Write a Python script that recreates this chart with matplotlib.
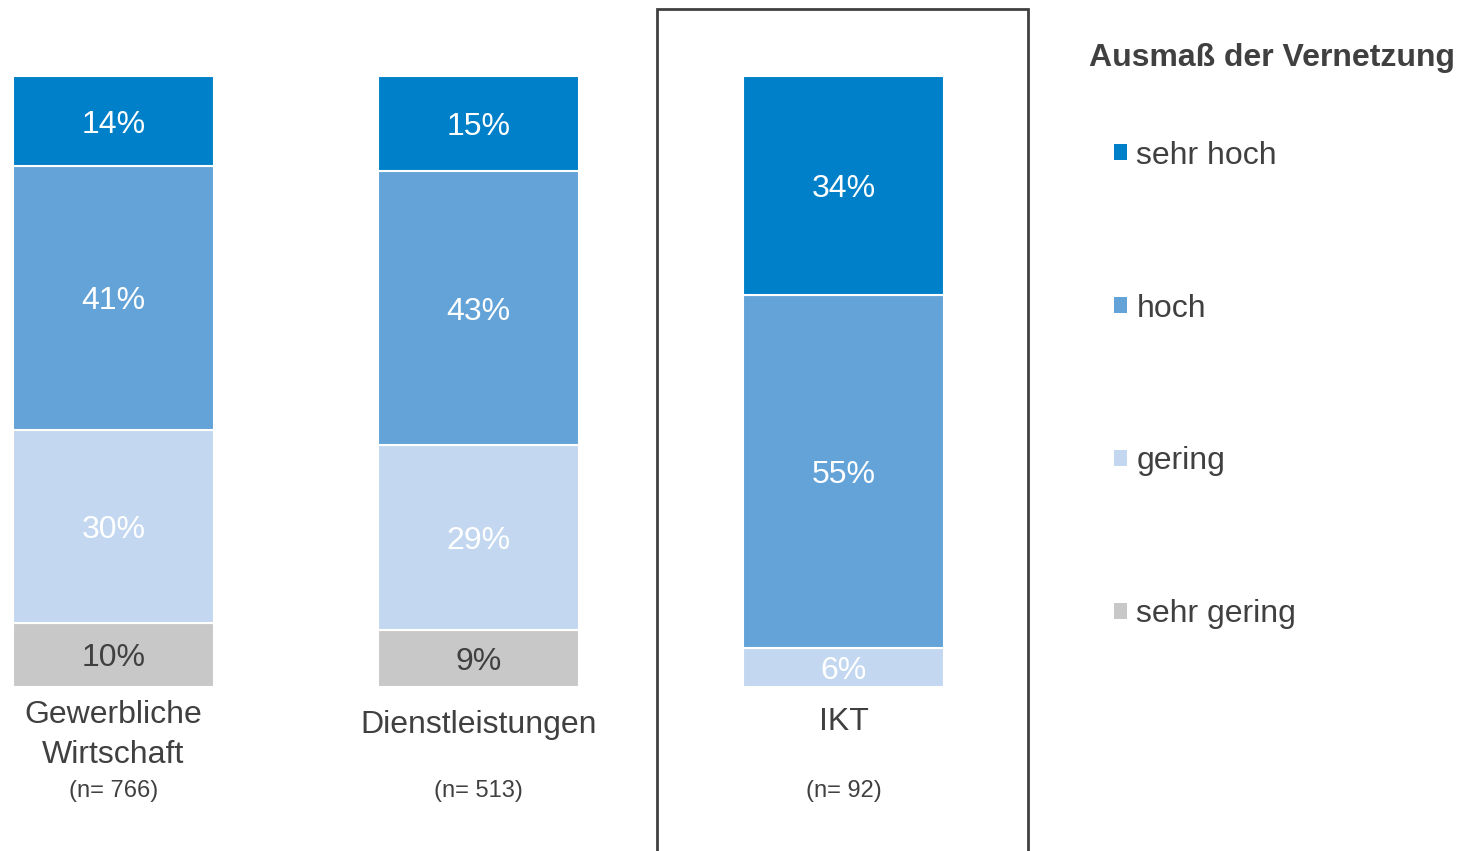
import numpy as np
import matplotlib.pyplot as plt
from matplotlib.patches import Patch, Rectangle

plt.rcParams['font.family'] = ['Liberation Sans', 'DejaVu Sans']

# data
categories = ['Gewerbliche\nWirtschaft', 'Dienstleistungen', 'IKT']
sample_sizes = ['(n= 766)', '(n= 513)', '(n= 92)']
levels = ['sehr hoch', 'hoch', 'gering', 'sehr gering']
sehr_hoch = [14, 15, 34]
hoch = [41, 43, 55]
gering = [30, 29, 6]
sehr_gering = [10, 9, 0]

colors = {'sehr hoch': '#0080C8', 'hoch': '#63A3D8',
          'gering': '#C3D8F0', 'sehr gering': '#C8C8C8'}
label_colors = {'sehr hoch': 'white', 'hoch': 'white',
                'gering': 'white', 'sehr gering': '#404040'}
text_color = '#404040'

W, H = 1461, 851
fig = plt.figure(figsize=(W / 100, H / 100), dpi=100)
ax = fig.add_axes([0, 0, 1, 1])

# pixel scale helpers (layout only)
px_per_x = 365.0
px_per_y = 6.11
x0_px, y0_px = 113.5, 687.0
ax.set_xlim(-x0_px / px_per_x, (W - x0_px) / px_per_x)
ax.set_ylim(-(H - y0_px) / px_per_y, y0_px / px_per_y)
ax.axis('off')


def ydata(p):
    return (y0_px - p) / px_per_y


series = {'sehr hoch': sehr_hoch, 'hoch': hoch,
          'gering': gering, 'sehr gering': sehr_gering}
totals = np.array(sehr_hoch) + np.array(hoch) + np.array(gering) + np.array(sehr_gering)
x = np.arange(len(categories))
width = 201 / px_per_x

# stacked bars, scaled to 100%
bottom = np.zeros(len(categories))
for lev in ['sehr gering', 'gering', 'hoch', 'sehr hoch']:
    vals = np.array(series[lev], dtype=float)
    share = vals / totals * 100
    ax.bar(x, share, width, bottom=bottom, color=colors[lev],
           edgecolor='white', linewidth=1.5, label=lev)
    for i in range(len(x)):
        if vals[i] > 0:
            ax.text(x[i], bottom[i] + share[i] / 2, f'{int(vals[i])}%',
                    ha='center', va='center_baseline', fontsize=23,
                    color=label_colors[lev])
    bottom += share

# category labels
baselines = [723, 733, 730]
for i, cat in enumerate(categories):
    ax.text(x[i], ydata(baselines[i]), cat.split('\n')[0], ha='center',
            va='baseline', fontsize=23, color=text_color)
    if '\n' in cat:
        ax.text(x[i], ydata(763), cat.split('\n')[1], ha='center',
                va='baseline', fontsize=23, color=text_color)
    ax.text(x[i], ydata(797), sample_sizes[i], ha='center',
            va='baseline', fontsize=17, color=text_color)

# frame around IKT
fig.patches.append(Rectangle((657 / W, -0.05), (1028 - 657) / W, (H - 9) / H + 0.05,
                             transform=fig.transFigure, fill=False,
                             edgecolor='#404040', linewidth=2))

# legend
fig.text(1089 / W, 1 - 58 / H, 'Ausmaß der Vernetzung', ha='left', va='center',
         fontsize=23, fontweight='bold', color=text_color)
handles = [Patch(facecolor=colors[l], edgecolor='none') for l in levels]
leg = fig.legend(handles, levels, loc='center left',
                 bbox_to_anchor=(1114 / W, 1 - 385 / H), frameon=False,
                 fontsize=23, labelspacing=3.85, handlelength=0.4,
                 handleheight=0.4, handletextpad=0.3, borderpad=0,
                 borderaxespad=0)
for t in leg.get_texts():
    t.set_color(text_color)

fig.savefig('out.png', dpi=100)
